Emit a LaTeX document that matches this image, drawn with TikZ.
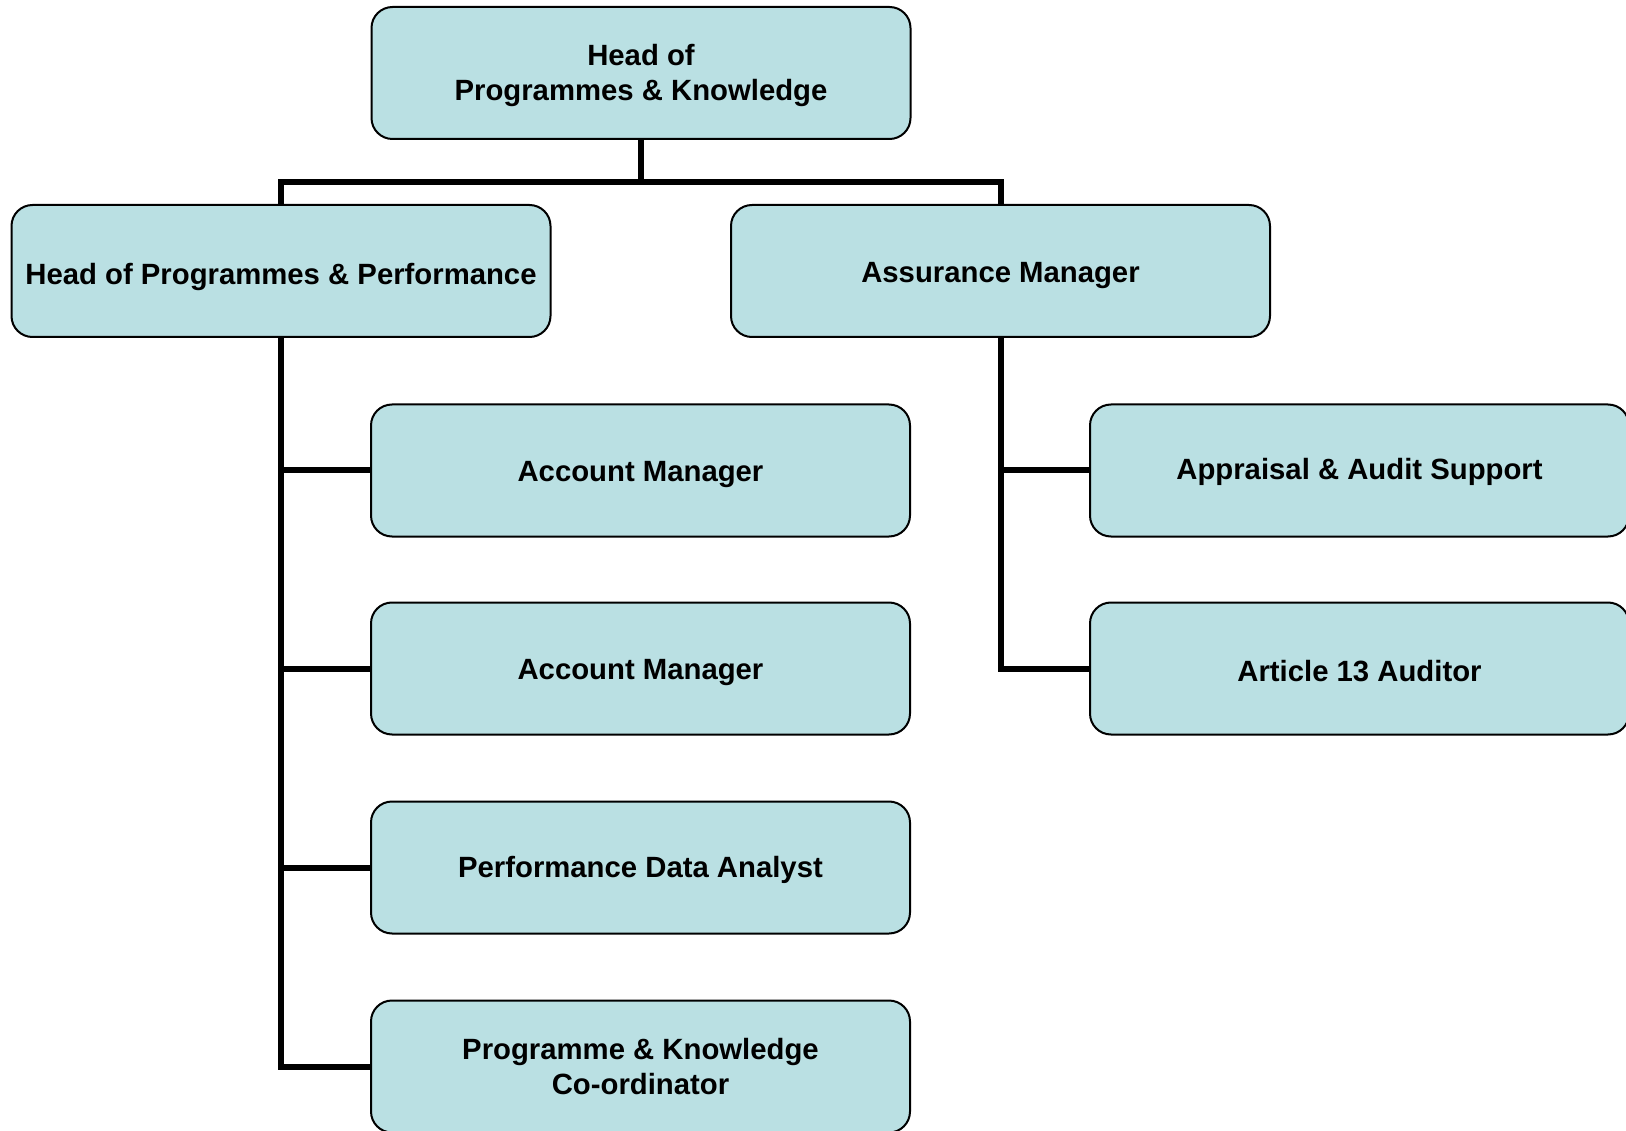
\documentclass[tikz,border=0pt]{standalone}
\usepackage{fontspec}
\setmainfont{Liberation Sans}
\definecolor{boxfill}{RGB}{186,224,227}
\tikzset{
  orgbox/.style={draw=black, line width=2pt, fill=boxfill, rounded corners=21pt,
    minimum width=539pt, minimum height=132pt, inner sep=0pt},
  boxtext/.style={align=center, inner sep=0pt,
    font=\fontsize{29.3}{35}\selectfont\bfseries, text=black},
  link/.style={draw=black, line width=6pt}
}
\begin{document}
\begin{tikzpicture}[x=1pt, y=-1pt]
\useasboundingbox (0,0) rectangle (1626,1131);
\node[orgbox] (top) at (641,73) {};
\node[orgbox] (hpp) at (281,271) {};
\node[orgbox] (asm) at (1000.5,271) {};
\node[orgbox] (acc1) at (640.5,470.5) {};
\node[orgbox] (acc2) at (640.5,668.5) {};
\node[orgbox] (pda) at (640.5,867.5) {};
\node[orgbox] (pkc) at (640.5,1066.5) {};
\node[orgbox] (aas) at (1359.5,470.5) {};
\node[orgbox] (art) at (1359.5,668.5) {};
\node[boxtext] (topt) at ([yshift=-2.5pt]top.center) {Head of\\Programmes \& Knowledge};
\node[boxtext] (hppt) at ([yshift=-6pt]hpp.center) {Head of Programmes \& Performance};
\node[boxtext] (asmt) at ([yshift=-5pt]asm.center) {Assurance Manager};
\node[boxtext] (acc1t) at ([yshift=-4.5pt]acc1.center) {Account Manager};
\node[boxtext] (acc2t) at ([yshift=-4.5pt]acc2.center) {Account Manager};
\node[boxtext] (pdat) at ([yshift=-2.5pt]pda.center) {Performance Data Analyst};
\node[boxtext] (pkct) at ([yshift=0pt]pkc.center) {Programme \& Knowledge\\Co-ordinator};
\node[boxtext] (aast) at ([yshift=-1.5pt]aas.center) {Appraisal \& Audit Support};
\node[boxtext] (artt) at ([yshift=-3pt]art.center) {Article 13 Auditor};
\coordinate (bus) at (641,182.5);
\draw[link] (top.south) -- (bus);
\draw[link] (bus) -| (hpp.north);
\draw[link] (bus) -| (asm.north);
\draw[link] (hpp.south) |- (pkc.west);
\draw[link] (hpp.south |- acc1.west) -- (acc1.west);
\draw[link] (hpp.south |- acc2.west) -- (acc2.west);
\draw[link] (hpp.south |- pda.west) -- (pda.west);
\draw[link] (asm.south) |- (art.west);
\draw[link] (asm.south |- aas.west) -- (aas.west);
\end{tikzpicture}
\end{document}
